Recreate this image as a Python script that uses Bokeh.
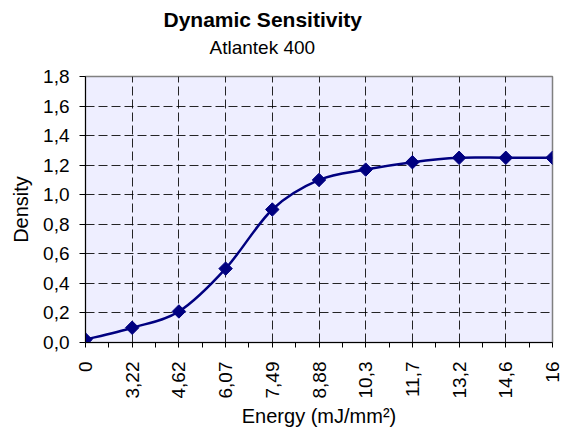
import numpy as np
from bokeh.plotting import figure
from bokeh.models import FixedTicker, CustomJSTickFormatter, Title, Range1d
from bokeh.embed import file_html
from bokeh.resources import INLINE

# ---- data ----
energy_labels = ["0", "3,22", "4,62", "6,07", "7,49", "8,88", "10,3", "11,7", "13,2", "14,6", "16"]
density = [0.02, 0.10, 0.21, 0.50, 0.90, 1.10, 1.17, 1.22, 1.25, 1.25, 1.25]
y_ticks = [0.0, 0.2, 0.4, 0.6, 0.8, 1.0, 1.2, 1.4, 1.6, 1.8]
title_text = "Dynamic Sensitivity"
subtitle_text = "Atlantek 400"
x_title = "Energy (mJ/mm²)"
y_title = "Density"

FONT = "Liberation Sans"
NAVY = "#000080"

xs = np.arange(len(energy_labels), dtype=float)
ys = np.array(density, dtype=float)
n = len(xs)

p = figure(frame_width=467, frame_height=266, output_backend="svg", toolbar_location=None,
           x_range=Range1d(xs[0], xs[-1]), y_range=Range1d(y_ticks[0], y_ticks[-1]),
           min_border_left=85, min_border_right=10, min_border_top=76, min_border_bottom=10)
p.background_fill_color = "#EEEEFF"
p.border_fill_color = "white"
p.outline_line_color = "#808080"
p.outline_line_width = 1.5

# x axis (category positions)
xt = FixedTicker(ticks=list(xs), minor_ticks=list(xs[:-1] + 0.5))
p.xaxis.ticker = xt
p.xaxis.major_label_overrides = {float(i): lab for i, lab in zip(xs, energy_labels)}
p.xaxis.major_label_orientation = np.pi / 2
p.xaxis.major_tick_in = 0
p.xaxis.major_tick_out = 5
p.xaxis.minor_tick_in = 0
p.xaxis.minor_tick_out = 5
p.xaxis.major_label_standoff = 14
p.xaxis.axis_label = x_title
p.xaxis.axis_label_standoff = 4

# y axis
p.yaxis.ticker = FixedTicker(ticks=y_ticks, minor_ticks=[])
p.yaxis.formatter = CustomJSTickFormatter(code="return tick.toFixed(1).replace('.', ',');")
p.yaxis.major_tick_in = 0
p.yaxis.major_tick_out = 6
p.yaxis.major_label_standoff = 10
p.yaxis.axis_label = y_title
p.yaxis.axis_label_standoff = 8

for ax in (p.xaxis, p.yaxis):
    ax.axis_line_color = "black"
    ax.major_tick_line_color = "black"
    ax.minor_tick_line_color = "black"
    ax.major_label_text_font = FONT
    ax.major_label_text_font_size = "19px"
    ax.major_label_text_color = "black"
    ax.axis_label_text_font = FONT
    ax.axis_label_text_font_size = "20px"
    ax.axis_label_text_font_style = "normal"
    ax.axis_label_text_color = "black"

p.xgrid.ticker = xt
p.ygrid.ticker = FixedTicker(ticks=y_ticks)
for g in (p.xgrid, p.ygrid):
    g.grid_line_color = "black"
    g.grid_line_alpha = 0.85
    g.grid_line_dash = "9 4"
    g.grid_line_width = 1

# smoothed line (Catmull-Rom style Bezier through data points)
x0, y0, x1, y1, cx0, cy0, cx1, cy1 = [], [], [], [], [], [], [], []
for i in range(n - 1):
    a = max(i - 1, 0)
    d = min(i + 2, n - 1)
    x0.append(xs[i]); y0.append(ys[i])
    x1.append(xs[i + 1]); y1.append(ys[i + 1])
    cx0.append(xs[i] + (xs[i + 1] - xs[a]) / 6.0)
    cy0.append(ys[i] + (ys[i + 1] - ys[a]) / 6.0)
    cx1.append(xs[i + 1] - (xs[d] - xs[i]) / 6.0)
    cy1.append(ys[i + 1] - (ys[d] - ys[i]) / 6.0)
p.bezier(x0=x0, y0=y0, x1=x1, y1=y1, cx0=cx0, cy0=cy0, cx1=cx1, cy1=cy1,
         line_color=NAVY, line_width=2.5)

p.scatter(xs, ys, marker="square", size=9.5, angle=np.pi / 4,
          fill_color=NAVY, line_color=NAVY)

# spacer between frame and titles, then titles (added bottom-most first)
p.add_layout(Title(text=" ", text_font_size="1px", standoff=14), "above")
p.add_layout(Title(text=subtitle_text, align="left", offset=124, text_font=FONT,
                   text_font_size="19px", text_font_style="normal", text_color="black",
                   standoff=4), "above")
p.add_layout(Title(text=title_text, align="left", offset=78, text_font=FONT,
                   text_font_size="21px", text_font_style="bold", text_color="black",
                   standoff=4), "above")

open("out.html", "w").write(file_html(p, INLINE))
